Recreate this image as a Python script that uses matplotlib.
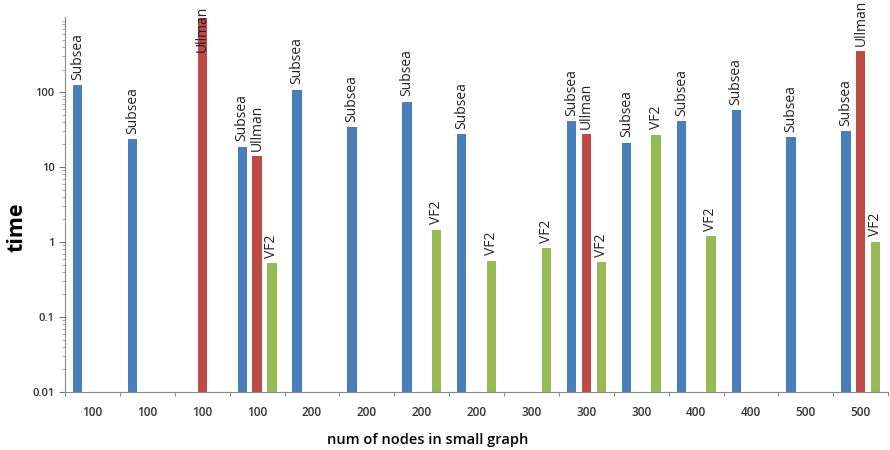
import numpy as np
import matplotlib
matplotlib.use("Agg")
import matplotlib.pyplot as plt
from matplotlib.ticker import FixedLocator, NullFormatter, LogLocator

categories = ["100", "100", "100", "100", "200", "200", "200", "200",
              "300", "300", "300", "400", "400", "500", "500"]
nan = np.nan
subsea = [124, 23.5, nan, 18.5, 107, 34, 74, 27.5, nan, 41, 21, 41, 57, 25, 30]
ullman = [nan, nan, 980, 14, nan, nan, nan, nan, nan, 27.5, nan, nan, nan, nan, 350]
vf2 = [nan, nan, nan, 0.52, nan, nan, 1.45, 0.56, 0.83, 0.54, 27, 1.2, nan, nan, 1.0]

series = [("Subsea", subsea, "#4A7EBB"),
          ("Ullman", ullman, "#BE4B48"),
          ("VF2", vf2, "#98B954")]

plt.rcParams['font.family'] = ['Open Sans', 'DejaVu Sans']

fig = plt.figure(figsize=(8.9, 4.5), dpi=100)
ax = fig.add_axes([0.073, 0.129, 0.925, 0.833])
ax.set_yscale('log')
ax.set_ylim(0.01, 1000)

x = np.arange(len(categories))
width = 0.17
offsets = [-0.27, 0.0, 0.27]

for (name, vals, col), off in zip(series, offsets):
    vals = np.array(vals, dtype=float)
    ax.bar(x + off, vals, width=width, color=col, zorder=2)
    for xi, v in zip(x, vals):
        if np.isnan(v):
            continue
        if v > 600:
            ax.annotate(name, xy=(xi + off, 1.0), xycoords=('data', 'axes fraction'),
                        xytext=(0, 8), textcoords='offset points',
                        rotation=90, ha='center', va='top', fontsize=10,
                        color='#222222', annotation_clip=False)
        else:
            ax.annotate(name, xy=(xi + off, v), xytext=(0, 4),
                        textcoords='offset points', rotation=90,
                        ha='center', va='bottom', fontsize=10, color='#222222',
                        annotation_clip=False)

ax.set_xlim(-0.5, len(categories) - 0.5)
ax.set_xticks(x)
ax.set_xticklabels(categories, fontsize=8.5, fontweight='semibold', color='#333333')
ax.xaxis.set_minor_locator(FixedLocator(np.arange(len(categories) + 1) - 0.5))
ax.tick_params(axis='x', which='major', length=0, pad=10)
ax.tick_params(axis='x', which='minor', length=3, color='#777777', direction='out')

ax.yaxis.set_major_locator(FixedLocator([0.01, 0.1, 1, 10, 100]))
ax.set_yticklabels(["0.01", "0.1", "1", "10", "100"], fontsize=8, fontweight='semibold', color='#333333')
ax.yaxis.set_minor_locator(LogLocator(base=10, subs=np.arange(2, 10), numticks=20))
ax.yaxis.set_minor_formatter(NullFormatter())
ax.tick_params(axis='y', which='major', length=4, color='#777777', direction='out')
ax.tick_params(axis='y', which='minor', length=2, color='#999999', direction='out')

for s in ['top', 'right']:
    ax.spines[s].set_visible(False)
for s in ['left', 'bottom']:
    ax.spines[s].set_color('#888888')

ax.set_ylabel("time", fontsize=15.5, fontweight='bold')
ax.yaxis.set_label_coords(-0.045, 0.44)
ax.set_xlabel("num of nodes in small graph", fontsize=10.5, fontweight='semibold')
ax.xaxis.set_label_coords(0.44, -0.11)

fig.savefig("out.png", dpi=100)
